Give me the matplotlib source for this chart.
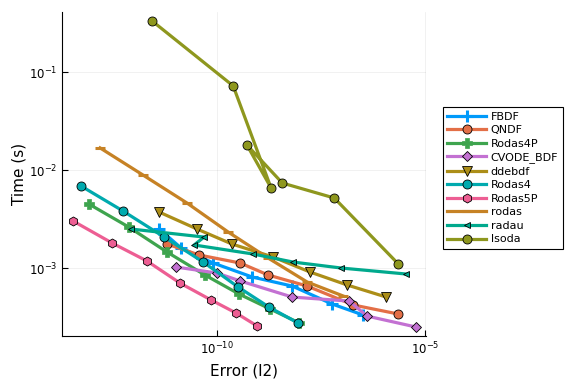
import numpy as np
import matplotlib
matplotlib.use("Agg")
import matplotlib.pyplot as plt
from matplotlib.ticker import FixedLocator, NullLocator

# values as log10 (error, time)
fbdf_err = [-11.40, -10.87, -10.10, -9.16, -8.20, -7.24, -6.49]
fbdf_time = [-2.599, -2.793, -2.946, -3.089, -3.181, -3.364, -3.477]
qndf_err = [-11.21, -10.44, -9.45, -8.78, -7.84, -6.73, -5.65]
qndf_time = [-2.752, -2.864, -2.946, -3.068, -3.181, -3.374, -3.466]
rodas4p_err = [-13.09, -12.13, -11.21, -10.30, -9.48, -8.73, -8.03]
rodas4p_time = [-2.344, -2.579, -2.834, -3.068, -3.262, -3.415, -3.558]
cvode_err = [-10.99, -10.01, -9.45, -8.20, -6.83, -6.40, -5.22]
cvode_time = [-2.987, -3.048, -3.129, -3.293, -3.334, -3.487, -3.599]
ddebdf_err = [-11.40, -10.49, -9.65, -8.66, -7.77, -6.88, -5.94]
ddebdf_time = [-2.426, -2.599, -2.752, -2.885, -3.038, -3.170, -3.293]
rodas4_err = [-13.28, -12.27, -11.28, -10.34, -9.50, -8.76, -8.06]
rodas4_time = [-2.160, -2.415, -2.681, -2.936, -3.191, -3.395, -3.558]
rodas5p_err = [-13.47, -12.53, -11.69, -10.90, -10.15, -9.55, -9.04]
rodas5p_time = [-2.517, -2.742, -2.926, -3.150, -3.323, -3.456, -3.589]
rodas_err = [-12.82, -11.79, -10.73, -9.74, -8.78, -7.84, -6.97]
rodas_time = [-1.772, -2.048, -2.334, -2.630, -2.895, -3.140, -3.283]
radau_err = [-12.08, -10.32, -10.56, -9.14, -8.18, -7.02, -5.46]
radau_time = [-2.599, -2.681, -2.762, -2.854, -2.936, -2.997, -3.058]
lsoda_err = [-11.57, -9.62, -8.71, -9.29, -8.44, -7.19, -5.65]
lsoda_time = [-0.477, -1.140, -2.180, -1.742, -2.130, -2.283, -2.956]

series = [
    ("FBDF", fbdf_err, fbdf_time, "#009AFA", "+"),
    ("QNDF", qndf_err, qndf_time, "#E36F47", "o"),
    ("Rodas4P", rodas4p_err, rodas4p_time, "#3EA44E", "P"),
    ("CVODE_BDF", cvode_err, cvode_time, "#C371D2", "D"),
    ("ddebdf", ddebdf_err, ddebdf_time, "#AC8E18", "v"),
    ("Rodas4", rodas4_err, rodas4_time, "#00AAAE", "o"),
    ("Rodas5P", rodas5p_err, rodas5p_time, "#ED5E93", "h"),
    ("rodas", rodas_err, rodas_time, "#C68225", "_"),
    ("radau", radau_err, radau_time, "#00A98D", "<"),
    ("lsoda", lsoda_err, lsoda_time, "#8E971E", "o"),
]

fig = plt.figure(figsize=(5.76, 3.84), dpi=100)
ax = fig.add_axes([0.108, 0.125, 0.632, 0.844])

for name, e, t, c, m in series:
    x = np.power(10.0, e)
    y = np.power(10.0, t)
    kw = dict(color=c, lw=2.3, marker=m, label=name)
    if m == "+":
        kw.update(ms=8, mew=2.2, mec=c)
    elif m == "_":
        kw.update(ms=7, mew=2.2, mec=c)
    elif m == "P":
        kw.update(ms=7, mec=c, mfc=c, mew=0.5)
    elif m == "D":
        kw.update(ms=5, mec="black", mew=0.6)
    elif m == "<":
        kw.update(ms=5, mec="black", mew=0.6)
    else:
        kw.update(ms=6.5, mec="black", mew=0.6)
    ax.plot(x, y, **kw)

ax.set_xscale("log")
ax.set_yscale("log")
ax.set_xlim(10**-13.73, 10**-4.98)
ax.set_ylim(10**-3.69, 10**-0.385)
ax.xaxis.set_major_locator(FixedLocator([1e-10, 1e-5]))
ax.yaxis.set_major_locator(FixedLocator([1e-3, 1e-2, 1e-1]))
ax.xaxis.set_minor_locator(NullLocator())
ax.yaxis.set_minor_locator(NullLocator())
ax.tick_params(direction="in", length=4, width=0.8, labelsize=8.5)
ax.grid(True, color="black", alpha=0.08, lw=0.5)
ax.spines["top"].set_visible(False)
ax.spines["right"].set_visible(False)
ax.set_xlabel("Error (l2)", fontsize=11)
ax.set_ylabel("Time (s)", fontsize=11, labelpad=2)

leg = ax.legend(loc="upper left", bbox_to_anchor=(0.769, 0.721),
                bbox_transform=fig.transFigure, borderaxespad=0,
                fontsize=8, labelspacing=0.32, handlelength=3.5,
                handletextpad=0.4, borderpad=0.4, fancybox=False,
                edgecolor="black", framealpha=1)
leg.get_frame().set_linewidth(0.8)

fig.savefig("out.png", dpi=100)
